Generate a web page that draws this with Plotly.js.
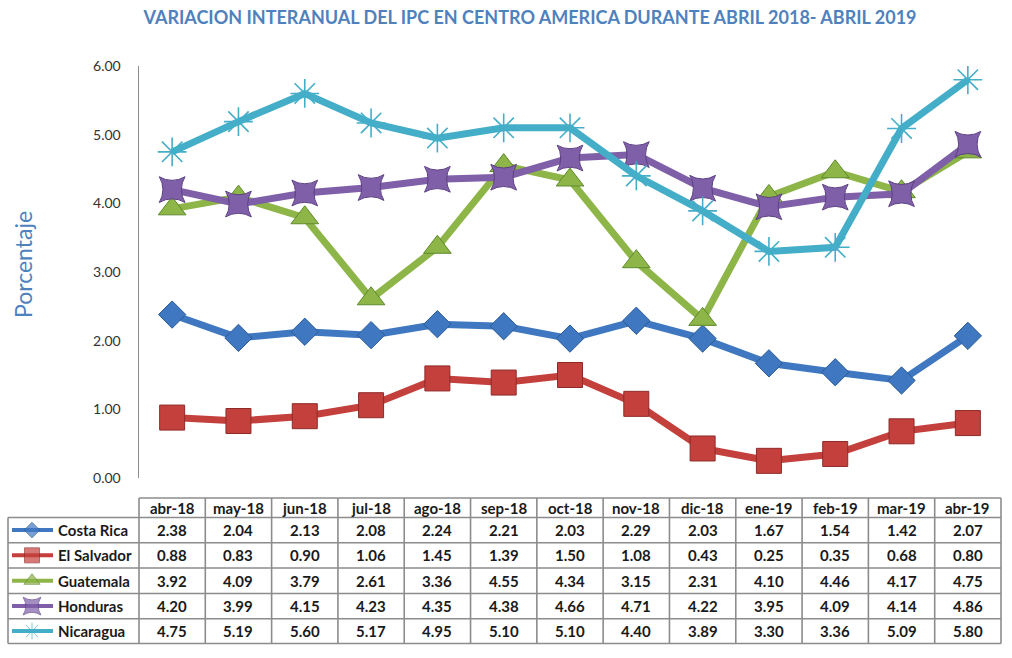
<!DOCTYPE html>
<html>
<head>
<meta charset="utf-8">
<script src="https://cdn.plot.ly/plotly-3.0.1.min.js"></script>
<style>html,body{margin:0;padding:0;background:#fff;}#chart{width:1012px;height:658px;}</style>
</head>
<body>
<div id="chart"></div>
<script>
// ---- Data ----
const months = ["abr-18","may-18","jun-18","jul-18","ago-18","sep-18","oct-18","nov-18","dic-18","ene-19","feb-19","mar-19","abr-19"];
const countries = ["Costa Rica","El Salvador","Guatemala","Honduras","Nicaragua"];
const costaRica  = [2.38,2.04,2.13,2.08,2.24,2.21,2.03,2.29,2.03,1.67,1.54,1.42,2.07];
const elSalvador = [0.88,0.83,0.90,1.06,1.45,1.39,1.50,1.08,0.43,0.25,0.35,0.68,0.80];
const guatemala  = [3.92,4.09,3.79,2.61,3.36,4.55,4.34,3.15,2.31,4.10,4.46,4.17,4.75];
const honduras   = [4.20,3.99,4.15,4.23,4.35,4.38,4.66,4.71,4.22,3.95,4.09,4.14,4.86];
const nicaragua  = [4.75,5.19,5.60,5.17,4.95,5.10,5.10,4.40,3.89,3.30,3.36,5.09,5.80];
const seriesValues = [costaRica, elSalvador, guatemala, honduras, nicaragua];
const titleText = "VARIACION INTERANUAL DEL IPC EN CENTRO AMERICA DURANTE ABRIL 2018- ABRIL 2019";
const yTitle = "Porcentaje";

// ---- Styles ----
const W = 1012, H = 658;
const colors = ["#3f78c0","#c4403d","#8db548","#7f5fa8","#44aec8"];
const edge   = ["#2a5a96","#8e2a28","#5f8a2c","#5c3f82","#2c8aa5"];
const symbols = ["diamond","square","triangle-up","star-diamond","asterisk-open"];
const angles = [0,0,0,45,0];
const sizes = [21,25,24,26,24];
const keySizes = [12,15,14,18,14];
const fontFam = "Lato, 'Open Sans', sans-serif";

const px = x => x / W;
const py = y => 1 - y / H;

const plotLeft = 139, plotRight = 1001, plotTop = 66, plotBottom = 478;
const colW = (plotRight - plotLeft) / months.length;
const rowLines = [498, 517.5, 542.7, 568, 593.5, 618.7, 643.5];
const tableLeft = 8;

const traces = [];
const catIdx = months.map((m, i) => i);
seriesValues.forEach((vals, s) => {
  traces.push({
    type: "scatter", mode: "lines+markers", x: catIdx, y: vals, name: countries[s],
    xaxis: "x", yaxis: "y", showlegend: false, hoverinfo: "skip",
    line: {color: colors[s], width: 7},
    marker: {symbol: symbols[s], size: sizes[s], color: colors[s], angle: angles[s],
             line: {color: s === 4 ? colors[s] : edge[s], width: s === 4 ? 1.6 : 1}}
  });
});

// legend keys inside table (hidden pixel axes)
countries.forEach((c, s) => {
  const yc = (rowLines[s + 1] + rowLines[s + 2]) / 2;
  traces.push({
    type: "scatter", mode: "lines+markers", x: [12, 32, 53], y: [yc, yc, yc],
    xaxis: "x2", yaxis: "y2", showlegend: false, hoverinfo: "skip",
    line: {color: colors[s], width: 4},
    marker: {symbol: symbols[s], size: [0, keySizes[s], 0], color: colors[s], angle: angles[s],
             line: {color: s === 4 ? colors[s] : edge[s], width: 1}}
  });
});

const shapes = [];
const lineStyle = {color: "#8c8c8c", width: 1.6};
rowLines.forEach((y, i) => {
  shapes.push({type: "line", xref: "paper", yref: "paper",
    x0: px(i === 0 ? plotLeft : tableLeft), x1: px(plotRight), y0: py(y), y1: py(y), line: lineStyle});
});
shapes.push({type: "line", xref: "paper", yref: "paper", x0: px(tableLeft), x1: px(tableLeft),
  y0: py(rowLines[1]), y1: py(rowLines[6]), line: lineStyle});
for (let k = 0; k <= months.length; k++) {
  const x = plotLeft + colW * k;
  shapes.push({type: "line", xref: "paper", yref: "paper", x0: px(x), x1: px(x),
    y0: py(rowLines[0]), y1: py(rowLines[6]), line: lineStyle});
}

const annotations = [];
const cellFont = {family: fontFam, size: 15, color: "#1a1a1a"};
months.forEach((m, i) => {
  annotations.push({text: "<b>" + m + "</b>", xref: "paper", yref: "paper",
    x: px(plotLeft + colW * (i + 0.5)), y: py((rowLines[0] + rowLines[1]) / 2),
    xanchor: "center", yanchor: "middle", showarrow: false, font: cellFont});
});
seriesValues.forEach((vals, s) => {
  const yc = (rowLines[s + 1] + rowLines[s + 2]) / 2;
  annotations.push({text: "<b>" + countries[s] + "</b>", xref: "paper", yref: "paper",
    x: px(56), y: py(yc), xanchor: "left", yanchor: "middle", showarrow: false, font: cellFont});
  vals.forEach((v, i) => {
    annotations.push({text: "<b>" + v.toFixed(2) + "</b>", xref: "paper", yref: "paper",
      x: px(plotLeft + colW * (i + 0.5)), y: py(yc),
      xanchor: "center", yanchor: "middle", showarrow: false, font: cellFont});
  });
});
annotations.push({text: yTitle, xref: "paper", yref: "paper", x: px(23), y: py(265),
  xanchor: "center", yanchor: "middle", textangle: -90, showarrow: false,
  font: {family: fontFam, size: 23, color: "#4f81bd"}});

const layout = {
  width: W, height: H, margin: {l: 0, r: 0, t: 0, b: 0},
  paper_bgcolor: "#ffffff", plot_bgcolor: "rgba(0,0,0,0)",
  title: {text: "<b>" + titleText + "</b>", x: px(530), xanchor: "center", y: py(18), yanchor: "middle",
          font: {family: fontFam, size: 18, color: "#4f81bd"}},
  xaxis: {domain: [px(plotLeft), px(plotRight)], range: [-0.5, months.length - 0.5],
          showgrid: false, zeroline: false, showline: false, showticklabels: false, ticks: "", fixedrange: true},
  yaxis: {domain: [py(plotBottom), py(plotTop)], range: [0, 6], dtick: 1, tickformat: ".2f",
          showgrid: false, zeroline: false, showline: true, linecolor: "#8c8c8c", linewidth: 1.5,
          ticks: "", ticklabelstandoff: 14,
          tickfont: {family: fontFam, size: 14, color: "#333333"}, fixedrange: true},
  xaxis2: {domain: [0, 1], range: [0, W], visible: false, anchor: "y2", fixedrange: true},
  yaxis2: {domain: [0, 1], range: [H, 0], visible: false, anchor: "x2", fixedrange: true},
  shapes: shapes, annotations: annotations, showlegend: false
};

Plotly.newPlot("chart", traces, layout, {displayModeBar: false, staticPlot: true});
</script>
</body>
</html>
